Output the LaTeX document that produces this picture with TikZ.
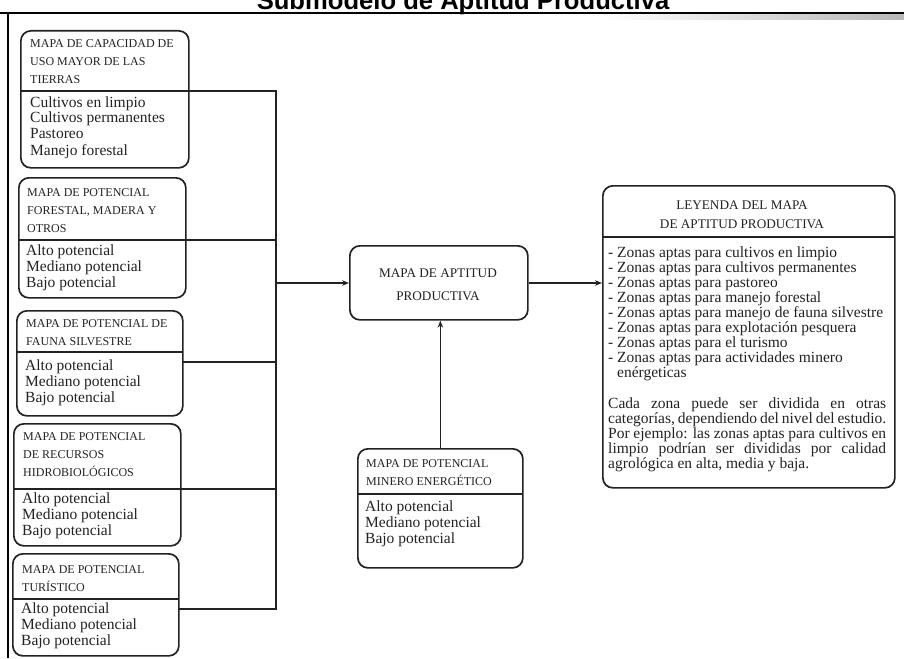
\documentclass[tikz,border=0pt]{standalone}
\usepackage{fontspec}
\setmainfont{Liberation Serif}
\newfontfamily\titlefont{Liberation Sans}
\usetikzlibrary{arrows.meta}

\definecolor{ink}{HTML}{222222}

\tikzset{
  mapbox/.style={draw=ink, line width=1.7pt, rounded corners=10pt, inner sep=0pt, anchor=north west},
  capline/.style={anchor=base west, inner sep=0pt, font=\fontsize{12}{14}\selectfont, text=ink},
  capmid/.style={anchor=base, inner sep=0pt, font=\fontsize{13.2}{15}\selectfont, text=ink},
  bodyline/.style={anchor=base west, inner sep=0pt, font=\fontsize{15.5}{16}\selectfont, text=ink},
  divider/.style={draw=ink, line width=1.4pt},
  link/.style={draw=ink, line width=1.3pt},
  flow/.style={link, -{Stealth[length=7pt,width=5.5pt]}},
}

\begin{document}
\begin{tikzpicture}[x=1pt,y=-1pt]
\useasboundingbox (0,0) rectangle (904,658);
\clip (0,0) rectangle (904,658);
\fill[white] (0,0) rectangle (904,658);

% title and page frame
\node[anchor=base, inner sep=0pt, font=\titlefont\bfseries\fontsize{25.6}{28}\selectfont] (title) at (463,10) {Submodelo de Aptitud Productiva};
\shade[left color=white, right color=black!28] (600,14.5) rectangle (904,19.5);
\draw[line width=2.2pt] (0,13) -- (904,13);
\draw[line width=2pt] (8,13) -- (8,658);

% ---- input maps (left column) ----
% 1
\node[mapbox, minimum width=168pt, minimum height=137pt] (b1) at (20,30) {};
\draw[divider] (20,91) -- (188,91);
\foreach \t [count=\i from 0] in {MAPA DE CAPACIDAD DE, USO MAYOR DE LAS, TIERRAS}
  \node[capline] (b1h\i) at (30,48+18*\i) {\t};
\foreach \t [count=\i from 0] in {Cultivos en limpio, Cultivos permanentes, Pastoreo, Manejo forestal}
  \node[bodyline] (b1t\i) at (30,107+16*\i) {\t};
\coordinate (b1o) at (188,91);

% 2
\node[mapbox, minimum width=167pt, minimum height=120pt] (b2) at (18,177) {};
\draw[divider] (18,240) -- (185,240);
\foreach \t [count=\i from 0] in {MAPA DE POTENCIAL, {FORESTAL, MADERA Y}, OTROS}
  \node[capline] (b2h\i) at (27,196+18*\i) {\t};
\foreach \t [count=\i from 0] in {Alto potencial, Mediano potencial, Bajo potencial}
  \node[bodyline] (b2t\i) at (26,255+16*\i) {\t};
\coordinate (b2o) at (185,240);

% 3
\node[mapbox, minimum width=166pt, minimum height=105pt] (b3) at (16,310) {};
\draw[divider] (16,352) -- (182,352);
\foreach \t [count=\i from 0] in {MAPA DE POTENCIAL DE, FAUNA SILVESTRE}
  \node[capline] (b3h\i) at (26,327+18*\i) {\t};
\foreach \t [count=\i from 0] in {Alto potencial, Mediano potencial, Bajo potencial}
  \node[bodyline] (b3t\i) at (25,370+16*\i) {\t};
\coordinate (b3o) at (182,362);

% 4
\node[mapbox, minimum width=167pt, minimum height=122pt] (b4) at (13,423) {};
\draw[divider] (13,489) -- (180,489);
\foreach \t [count=\i from 0] in {MAPA DE POTENCIAL, DE RECURSOS, HIDROBIOLÓGICOS}
  \node[capline] (b4h\i) at (23,440+18*\i) {\t};
\foreach \t [count=\i from 0] in {Alto potencial, Mediano potencial, Bajo potencial}
  \node[bodyline] (b4t\i) at (22,503+16*\i) {\t};
\coordinate (b4o) at (180,489);

% 5
\node[mapbox, minimum width=166pt, minimum height=102pt] (b5) at (12,553) {};
\draw[divider] (12,599) -- (178,599);
\foreach \t [count=\i from 0] in {MAPA DE POTENCIAL, TURÍSTICO}
  \node[capline] (b5h\i) at (22,573+18*\i) {\t};
\foreach \t [count=\i from 0] in {Alto potencial, Mediano potencial, Bajo potencial}
  \node[bodyline] (b5t\i) at (21,613+16*\i) {\t};
\coordinate (b5o) at (178,609);

% ---- central map ----
\node[mapbox, minimum width=178pt, minimum height=74pt] (mid) at (349,245) {};
\node[capmid] (midh0) at (438,277) {MAPA DE APTITUD};
\node[capmid] (midh1) at (438,300) {PRODUCTIVA};

% ---- mining / energy map ----
\node[mapbox, minimum width=165pt, minimum height=119pt] (min) at (357,448) {};
\draw[divider] (357,494) -- (522,494);
\foreach \t [count=\i from 0] in {MAPA DE POTENCIAL, MINERO ENERGÉTICO}
  \node[capline] (minh\i) at (366,467+18*\i) {\t};
\foreach \t [count=\i from 0] in {Alto potencial, Mediano potencial, Bajo potencial}
  \node[bodyline] (mint\i) at (365,511+16*\i) {\t};

% ---- legend ----
\node[mapbox, minimum width=292pt, minimum height=302pt] (leg) at (602,185) {};
\draw[divider] (602,237) -- (894,237);
\node[capmid] (legh0) at (742,209) {LEYENDA DEL MAPA};
\node[capmid] (legh1) at (742,228) {DE APTITUD PRODUCTIVA};
\foreach \t [count=\i from 0] in {
    - Zonas aptas para cultivos en limpio,
    - Zonas aptas para cultivos permanentes,
    - Zonas aptas para pastoreo,
    - Zonas aptas para manejo forestal,
    - Zonas aptas para manejo de fauna silvestre,
    - Zonas aptas para explotación pesquera,
    - Zonas aptas para el turismo,
    - Zonas aptas para actividades minero}
  \node[bodyline] (legt\i) at (608,257+15*\i) {\t};
\node[bodyline] (legt8) at (617,377) {enérgeticas};
\node[bodyline] (legp0) at (608,408) {\makebox[278pt][s]{Cada zona puede ser dividida en otras}};
\node[bodyline] (legp1) at (608,423) {\makebox[278pt][s]{categorías, dependiendo del nivel del estudio.}};
\node[bodyline] (legp2) at (608,438) {\makebox[278pt][s]{Por ejemplo: las zonas aptas para cultivos en}};
\node[bodyline] (legp3) at (608,453) {\makebox[278pt][s]{limpio podrían ser divididas por calidad}};
\node[bodyline] (legp4) at (608,468) {agrológica en alta, media y baja.};

% ---- connectors ----
\coordinate (bus1) at (276,91);
\coordinate (bus2) at (276,240);
\coordinate (bus3) at (276,362);
\coordinate (bus4) at (276,489);
\coordinate (bus5) at (276,609);
\coordinate (busin) at (276,283);
\draw[link] (b1o) -- (bus1) -- (bus5) -- (b5o);
\draw[link] (b2o) -- (bus2);
\draw[link] (b3o) -- (bus3);
\draw[link] (b4o) -- (bus4);
\draw[flow] (busin) -- (busin -| mid.west);
\draw[flow] (mid.east |- busin) -- (busin -| leg.west);
\draw[flow] (min.north) -- (min.north |- mid.south);
\end{tikzpicture}
\end{document}
